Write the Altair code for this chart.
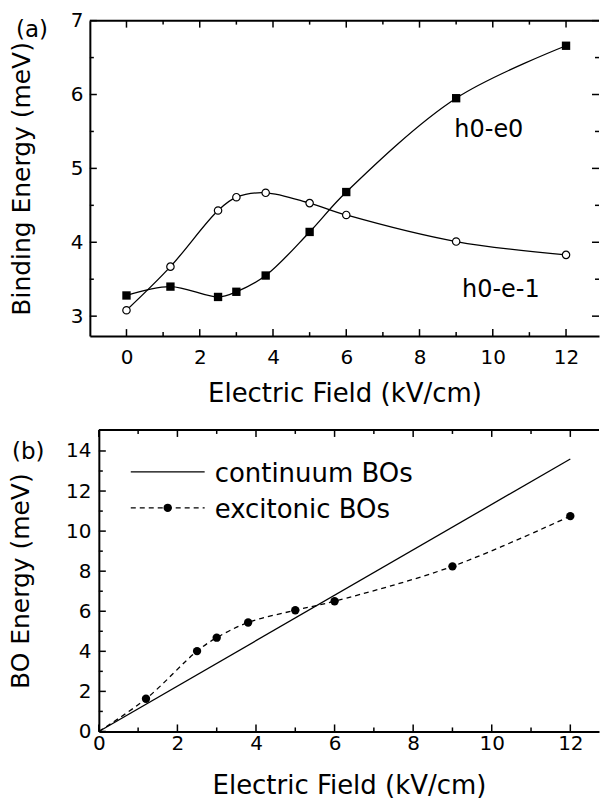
import altair as alt
import pandas as pd

FONT = "DejaVu Sans"

# ---------------- data ----------------
# Panel (a): binding energy vs electric field
field_a = [0, 1.2, 2.5, 3, 3.8, 5, 6, 9, 12]
h0_e0 = [3.28, 3.40, 3.26, 3.33, 3.55, 4.14, 4.68, 5.95, 6.66]
h0_em1 = [3.08, 3.67, 4.43, 4.61, 4.67, 4.53, 4.37, 4.01, 3.83]

# Panel (b): BO energy vs electric field
field_b = [0, 1.2, 2.5, 3, 3.8, 5, 6, 9, 12]
excitonic = [0, 1.63, 4.01, 4.68, 5.44, 6.05, 6.5, 8.24, 10.75]
excitonic_marker = [False, True, True, True, True, True, True, True, True]
continuum_x = [0, 12]
continuum_y = [0, 13.6]

# tick values
a_x_major = [0, 2, 4, 6, 8, 10, 12]
a_x_minor = [1, 3, 5, 7, 9, 11]
a_y_major = [3, 4, 5, 6, 7]
a_y_minor = [3.5, 4.5, 5.5, 6.5]
b_x_major = [0, 2, 4, 6, 8, 10, 12]
b_x_minor = [1, 3, 5, 7, 9, 11]
b_y_major = [0, 2, 4, 6, 8, 10, 12, 14]
b_y_minor = [1, 3, 5, 7, 9, 11, 13]

# annotations
ann_text = ["h0-e0", "h0-e-1"]
ann_x = [8.95, 9.16]
ann_y = [5.42, 3.26]

# ---------------- geometry ----------------
WA, HA = 510, 316
WB, HB = 501, 302
xa = alt.Scale(domain=[-1, 12.9], nice=False, zero=False)
ya = alt.Scale(domain=[2.73, 7], nice=False, zero=False)
xb = alt.Scale(domain=[0, 12.73], nice=False, zero=False)
yb = alt.Scale(domain=[0, 15.05], nice=False, zero=False)
MAJ, MIN = 7, 4


def axis_x(vals, pad, ty):
    return alt.Axis(values=vals, ticks=False, grid=False, domain=True,
                    domainColor="black", domainWidth=2, labelFont=FONT,
                    labelFontSize=20, labelColor="black", labelPadding=pad,
                    labelFlush=False, labelOverlap=False,
                    title="Electric Field (kV/cm)", titleFont=FONT,
                    titleFontSize=26, titleFontWeight="normal",
                    titleColor="black", titleBaseline="alphabetic", titleY=ty)


def axis_y(vals, title, pad, tpad):
    return alt.Axis(values=vals, ticks=False, grid=False, domain=True,
                    domainColor="black", domainWidth=2, labelFont=FONT,
                    labelFontSize=20, labelColor="black", labelPadding=pad,
                    labelFlush=False, labelOverlap=False, title=title,
                    titleFont=FONT, titleFontSize=25,
                    titleFontWeight="normal", titleColor="black",
                    titlePadding=tpad)


AXA_X = axis_x(a_x_major, 11, 66)
AXA_Y = axis_y(a_y_major, "Binding Energy (meV)", 7, 36)
AXB_X = axis_x(b_x_major, 2, 62)
AXB_Y = axis_y(b_y_major, "BO Energy (meV)", 8, 32)


def ticks(vals, scale, ax, side, W, H, length):
    df = pd.DataFrame({"v": vals})
    base = alt.Chart(df).mark_rule(color="black", strokeWidth=1.5)
    if side == "bottom":
        return base.encode(x=alt.X("v:Q", scale=scale, axis=ax),
                           y=alt.value(H), y2=alt.value(H - length))
    if side == "top":
        return base.encode(x=alt.X("v:Q", scale=scale, axis=ax),
                           y=alt.value(0), y2=alt.value(length))
    if side == "left":
        return base.encode(y=alt.Y("v:Q", scale=scale, axis=ax),
                           x=alt.value(0), x2=alt.value(length))
    return base.encode(y=alt.Y("v:Q", scale=scale, axis=ax),
                       x=alt.value(W - length), x2=alt.value(W))


def spacer(w):
    return alt.Chart(pd.DataFrame({"d": [0]})).mark_point(opacity=0).encode(
        x=alt.value(0), y=alt.value(0)).properties(width=w, height=1)


# ---------------- panel (a) ----------------
da = pd.DataFrame({"x": field_a, "e0": h0_e0, "em1": h0_em1})


def enc_a(yfield):
    return dict(x=alt.X("x:Q", scale=xa, axis=AXA_X),
                y=alt.Y(f"{yfield}:Q", scale=ya, axis=AXA_Y))


a_e0_line = alt.Chart(da).mark_line(color="black", strokeWidth=1.3,
                                    interpolate="catmull-rom").encode(**enc_a("e0"))
a_e0_pts = alt.Chart(da).mark_point(shape="square", filled=True,
                                    color="black", size=70,
                                    opacity=1).encode(**enc_a("e0"))
a_em1_line = alt.Chart(da).mark_line(color="black", strokeWidth=1.3,
                                     interpolate="catmull-rom").encode(**enc_a("em1"))
a_em1_pts = alt.Chart(da).mark_point(shape="circle", filled=True,
                                     fill="white", stroke="black",
                                     strokeWidth=1.2, size=55,
                                     opacity=1).encode(**enc_a("em1"))
a_ann = alt.Chart(pd.DataFrame({"t": ann_text, "x": ann_x, "y": ann_y})).mark_text(
    font=FONT, fontSize=24, align="left", baseline="alphabetic",
    color="black").encode(x=alt.X("x:Q", scale=xa, axis=AXA_X),
                          y=alt.Y("y:Q", scale=ya, axis=AXA_Y), text="t:N")
a_top = alt.Chart(pd.DataFrame({"d": [0]})).mark_rule(
    color="black", strokeWidth=2).encode(x=alt.value(0), x2=alt.value(WA),
                                         y=alt.value(0))
a_label = alt.Chart(pd.DataFrame({"t": ["(a)"]})).mark_text(
    font=FONT, fontSize=23, align="left", baseline="middle",
    color="black").encode(x=alt.value(-74), y=alt.value(9), text="t:N")

a_ticks = [
    ticks(a_x_major, xa, AXA_X, "bottom", WA, HA, MAJ),
    ticks(a_x_minor, xa, AXA_X, "bottom", WA, HA, MIN),
    ticks(a_x_major, xa, AXA_X, "top", WA, HA, MAJ),
    ticks(a_x_minor, xa, AXA_X, "top", WA, HA, MIN),
    ticks(a_y_major, ya, AXA_Y, "left", WA, HA, MAJ),
    ticks(a_y_minor, ya, AXA_Y, "left", WA, HA, MIN),
    ticks(a_y_major, ya, AXA_Y, "right", WA, HA, MAJ),
    ticks(a_y_minor, ya, AXA_Y, "right", WA, HA, MIN),
]

panel_a = alt.layer(a_e0_line, a_em1_line, a_e0_pts, a_em1_pts, a_ann,
                    a_top, a_label, *a_ticks).properties(width=WA, height=HA)

# ---------------- panel (b) ----------------
db = pd.DataFrame({"x": field_b, "y": excitonic, "m": excitonic_marker})
dc = pd.DataFrame({"x": continuum_x, "y": continuum_y})

enc_b = dict(x=alt.X("x:Q", scale=xb, axis=AXB_X),
             y=alt.Y("y:Q", scale=yb, axis=AXB_Y))

b_cont = alt.Chart(dc).mark_line(color="black", strokeWidth=1.3).encode(**enc_b)
b_exc = alt.Chart(db).mark_line(color="black", strokeWidth=1.3,
                                strokeDash=[5, 4],
                                interpolate="catmull-rom").encode(**enc_b)
b_pts = alt.Chart(db).transform_filter("datum.m").mark_point(
    shape="circle", filled=True, color="black", size=70,
    opacity=1).encode(**enc_b)
b_top = alt.Chart(pd.DataFrame({"d": [0]})).mark_rule(
    color="black", strokeWidth=2).encode(x=alt.value(0), x2=alt.value(WB),
                                         y=alt.value(0))
b_label = alt.Chart(pd.DataFrame({"t": ["(b)"]})).mark_text(
    font=FONT, fontSize=23, align="left", baseline="middle",
    color="black").encode(x=alt.value(-87), y=alt.value(22), text="t:N")

# legend
leg_names = ["continuum BOs", "excitonic BOs"]
leg_solid = alt.Chart(pd.DataFrame({"d": [0]})).mark_rule(
    color="black", strokeWidth=1.3).encode(x=alt.value(32), x2=alt.value(106),
                                           y=alt.value(42))
leg_dash = alt.Chart(pd.DataFrame({"d": [0]})).mark_rule(
    color="black", strokeWidth=1.3, strokeDash=[5, 4]).encode(
    x=alt.value(32), x2=alt.value(106), y=alt.value(78))
leg_dot = alt.Chart(pd.DataFrame({"d": [0]})).mark_point(
    shape="circle", filled=True, color="black", size=70, opacity=1).encode(
    x=alt.value(69), y=alt.value(78))
leg_t1 = alt.Chart(pd.DataFrame({"t": [leg_names[0]]})).mark_text(
    font=FONT, fontSize=26, align="left", baseline="alphabetic",
    color="black").encode(x=alt.value(116), y=alt.value(52), text="t:N")
leg_t2 = alt.Chart(pd.DataFrame({"t": [leg_names[1]]})).mark_text(
    font=FONT, fontSize=26, align="left", baseline="alphabetic",
    color="black").encode(x=alt.value(116), y=alt.value(88), text="t:N")

b_ticks = [
    ticks(b_x_major, xb, AXB_X, "bottom", WB, HB, MAJ),
    ticks(b_x_minor, xb, AXB_X, "bottom", WB, HB, MIN),
    ticks(b_x_major, xb, AXB_X, "top", WB, HB, MAJ),
    ticks(b_x_minor, xb, AXB_X, "top", WB, HB, MIN),
    ticks(b_y_major, yb, AXB_Y, "left", WB, HB, MAJ),
    ticks(b_y_minor, yb, AXB_Y, "left", WB, HB, MIN),
]

panel_b = alt.layer(b_cont, b_exc, b_pts, b_top, b_label, leg_solid,
                    leg_dash, leg_dot, leg_t1, leg_t2,
                    *b_ticks).properties(width=WB, height=HB)

row_a = alt.hconcat(spacer(6), panel_a, spacing=0)
row_b = alt.hconcat(spacer(4.5), panel_b, spacing=0)

chart = alt.vconcat(row_a, row_b, spacing=20).properties(
    padding={"left": 0, "top": 10, "right": 0, "bottom": 0}
).configure_view(stroke=None)

chart.save("out.html", embed_options={"renderer": "svg", "actions": False})
